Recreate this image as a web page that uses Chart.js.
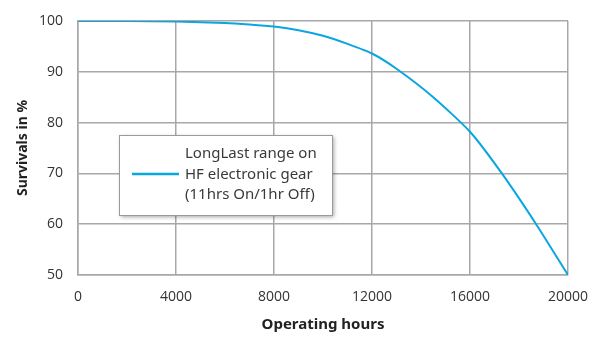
<!DOCTYPE html>
<html>
<head>
<meta charset="utf-8">
<script src="https://cdn.jsdelivr.net/npm/chart.js@4/dist/chart.umd.min.js"></script>
<style>
  html, body { margin: 0; padding: 0; background: #fff; }
  #wrap { width: 598px; height: 338px; position: relative; }
</style>
</head>
<body>
<div id="wrap"><canvas id="grafico"></canvas></div>
<script>
// dados
const horas = [0, 2000, 4000, 6000, 7000, 8000, 9000, 10000, 11000, 12000, 13000, 14500, 16000, 17300, 18700, 20000];
const sobrevivencia = [100, 100, 99.9, 99.6, 99.3, 98.9, 98.2, 97.1, 95.5, 93.6, 90.6, 85.0, 78.2, 70, 60, 50];
const ticksX = [0, 4000, 8000, 12000, 16000, 20000];
const ticksY = [50, 60, 70, 80, 90, 100];
const legendaLinhas = ['LongLast range on', 'HF electronic gear', '(11hrs On/1hr Off)'];

const azul = '#0aa6e0';
const cinza = '#a8a8aa';

// caixa de legenda com sombra
const legendaBox = {
    id: 'legendaBox',
    afterDraw(chart) {
        const ctx = chart.ctx;
        const x = 119, y = 135, w = 213, h = 80;
        ctx.save();
        ctx.shadowColor = 'rgba(0,0,0,0.35)';
        ctx.shadowBlur = 4;
        ctx.shadowOffsetX = 2;
        ctx.shadowOffsetY = 2;
        ctx.fillStyle = '#fff';
        ctx.fillRect(x, y, w, h);
        ctx.restore();

        ctx.save();
        ctx.strokeStyle = '#9a9a9a';
        ctx.lineWidth = 1;
        ctx.strokeRect(x + 0.5, y + 0.5, w, h);

        ctx.strokeStyle = azul;
        ctx.lineWidth = 2.5;
        ctx.beginPath();
        ctx.moveTo(132, 174);
        ctx.lineTo(179, 174);
        ctx.stroke();

        ctx.fillStyle = '#3a3a3a';
        ctx.font = '15px "Noto Sans", sans-serif';
        ctx.textBaseline = 'middle';
        legendaLinhas.forEach((linha, i) => {
            ctx.fillText(linha, 185, 154 + i * 20.5);
        });
        ctx.restore();
    }
};

new Chart(document.getElementById('grafico'), {
    type: 'line',
    data: {
        datasets: [{
            label: legendaLinhas.join(' '),
            data: horas.map((h, i) => ({ x: h, y: sobrevivencia[i] })),
            borderColor: azul,
            borderWidth: 2,
            pointRadius: 0,
            tension: 0.2,
            fill: false
        }]
    },
    options: {
        responsive: true,
        maintainAspectRatio: false,
        animation: false,
        layout: { padding: { top: 21, right: 30, left: 0, bottom: 0 } },
        plugins: {
            legend: { display: false },
            tooltip: { enabled: false }
        },
        scales: {
            x: {
                type: 'linear',
                min: 0,
                max: 20000,
                afterBuildTicks: s => { s.ticks = ticksX.map(v => ({ value: v })); },
                afterFit: s => { s.height = 63; s.paddingLeft = 0; s.paddingRight = 0; },
                grid: { color: cinza, lineWidth: 1.5, drawTicks: false },
                border: { color: cinza, width: 1.5 },
                ticks: {
                    padding: 14,
                    color: '#333',
                    font: { family: '"Open Sans", sans-serif', size: 14 },
                    maxRotation: 0,
                    callback: v => String(v)
                },
                title: {
                    display: true,
                    text: 'Operating hours',
                    color: '#222',
                    font: { family: '"Noto Sans", sans-serif', size: 15, weight: 'bold' },
                    padding: { top: 11 }
                }
            },
            y: {
                min: 50,
                max: 100,
                afterBuildTicks: s => { s.ticks = ticksY.map(v => ({ value: v })); },
                afterFit: s => { s.width = 78; s.paddingTop = 0; s.paddingBottom = 0; },
                grid: { color: cinza, lineWidth: 1.5, drawTicks: false },
                border: { color: cinza, width: 1.5 },
                ticks: {
                    padding: 15,
                    color: '#333',
                    font: { family: '"Open Sans", sans-serif', size: 14 },
                    callback: v => String(v)
                },
                title: {
                    display: true,
                    text: 'Survivals in %',
                    color: '#222',
                    font: { family: '"Noto Sans", sans-serif', size: 14, weight: 'bold' },
                    padding: { top: 15, bottom: 4 }
                }
            }
        }
    },
    plugins: [legendaBox]
});
</script>
</body>
</html>
